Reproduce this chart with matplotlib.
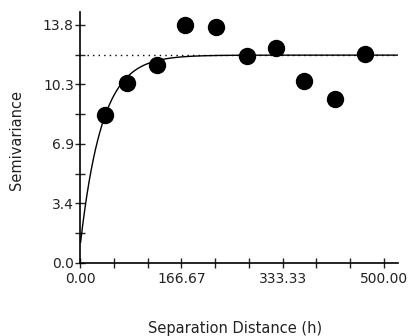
import numpy as np
import matplotlib
matplotlib.use('Agg')
from matplotlib import pyplot as plt
from matplotlib.ticker import MultipleLocator

plt.rcParams['font.family'] = ['DejaVu Sans']

# experimental semivariogram points
lag = [41, 78, 126, 173, 224, 275, 322, 369, 419, 469]
semivar = [8.58, 10.43, 11.48, 13.8, 13.7, 12.02, 12.48, 10.55, 9.5, 12.1]

# fitted exponential model
nugget = 0.9
sill = 12.05
model_range = 107.0

x_ticks = [0.0, 166.67, 333.33, 500.0]
x_ticklabels = ['0.00', '166.67', '333.33', '500.00']
y_ticks = [0.0, 3.45, 6.9, 10.35, 13.8]
y_ticklabels = ['0.0', '3.4', '6.9', '10.3', '13.8']

fig = plt.figure(figsize=(4.12, 3.36), dpi=100)
ax = fig.add_axes([80/412, 1-263/336, (398-80)/412, (263-12)/336])

h = np.linspace(1, 523, 300)
gamma = nugget + (sill - nugget)*(1 - np.exp(-3*h/model_range))
ax.plot(h, gamma, color='black', lw=1.0)
ax.plot([12, 523], [sill, sill], color='black', lw=1.0, ls=(0, (1, 3)))
ax.plot(lag, semivar, 'o', color='black', markersize=11.5)

ax.set_xlim(0, 523)
ax.set_ylim(0, 14.55)
ax.set_xticks(x_ticks)
ax.set_xticklabels(x_ticklabels)
ax.set_yticks(y_ticks)
ax.set_yticklabels(y_ticklabels)
ax.xaxis.set_minor_locator(MultipleLocator(500/9))
ax.yaxis.set_minor_locator(MultipleLocator(1.725))
ax.tick_params(which='both', direction='inout', length=7, width=1, labelsize=10, colors='#222222')
ax.tick_params(axis='x', pad=3)
ax.tick_params(axis='y', pad=1)

for s in ['top', 'right']:
    ax.spines[s].set_visible(False)
for s in ['left', 'bottom']:
    ax.spines[s].set_linewidth(1.2)

# axis titles placed in figure coords
fig.text(17/412, 1-140/336, 'Semivariance', rotation=90, ha='center', va='center', fontsize=10.5, color='#222222')
fig.text(235/412, 1-328/336, 'Separation Distance (h)', ha='center', va='center', fontsize=10.5, color='#222222')

plt.savefig('out.png', dpi=100)
